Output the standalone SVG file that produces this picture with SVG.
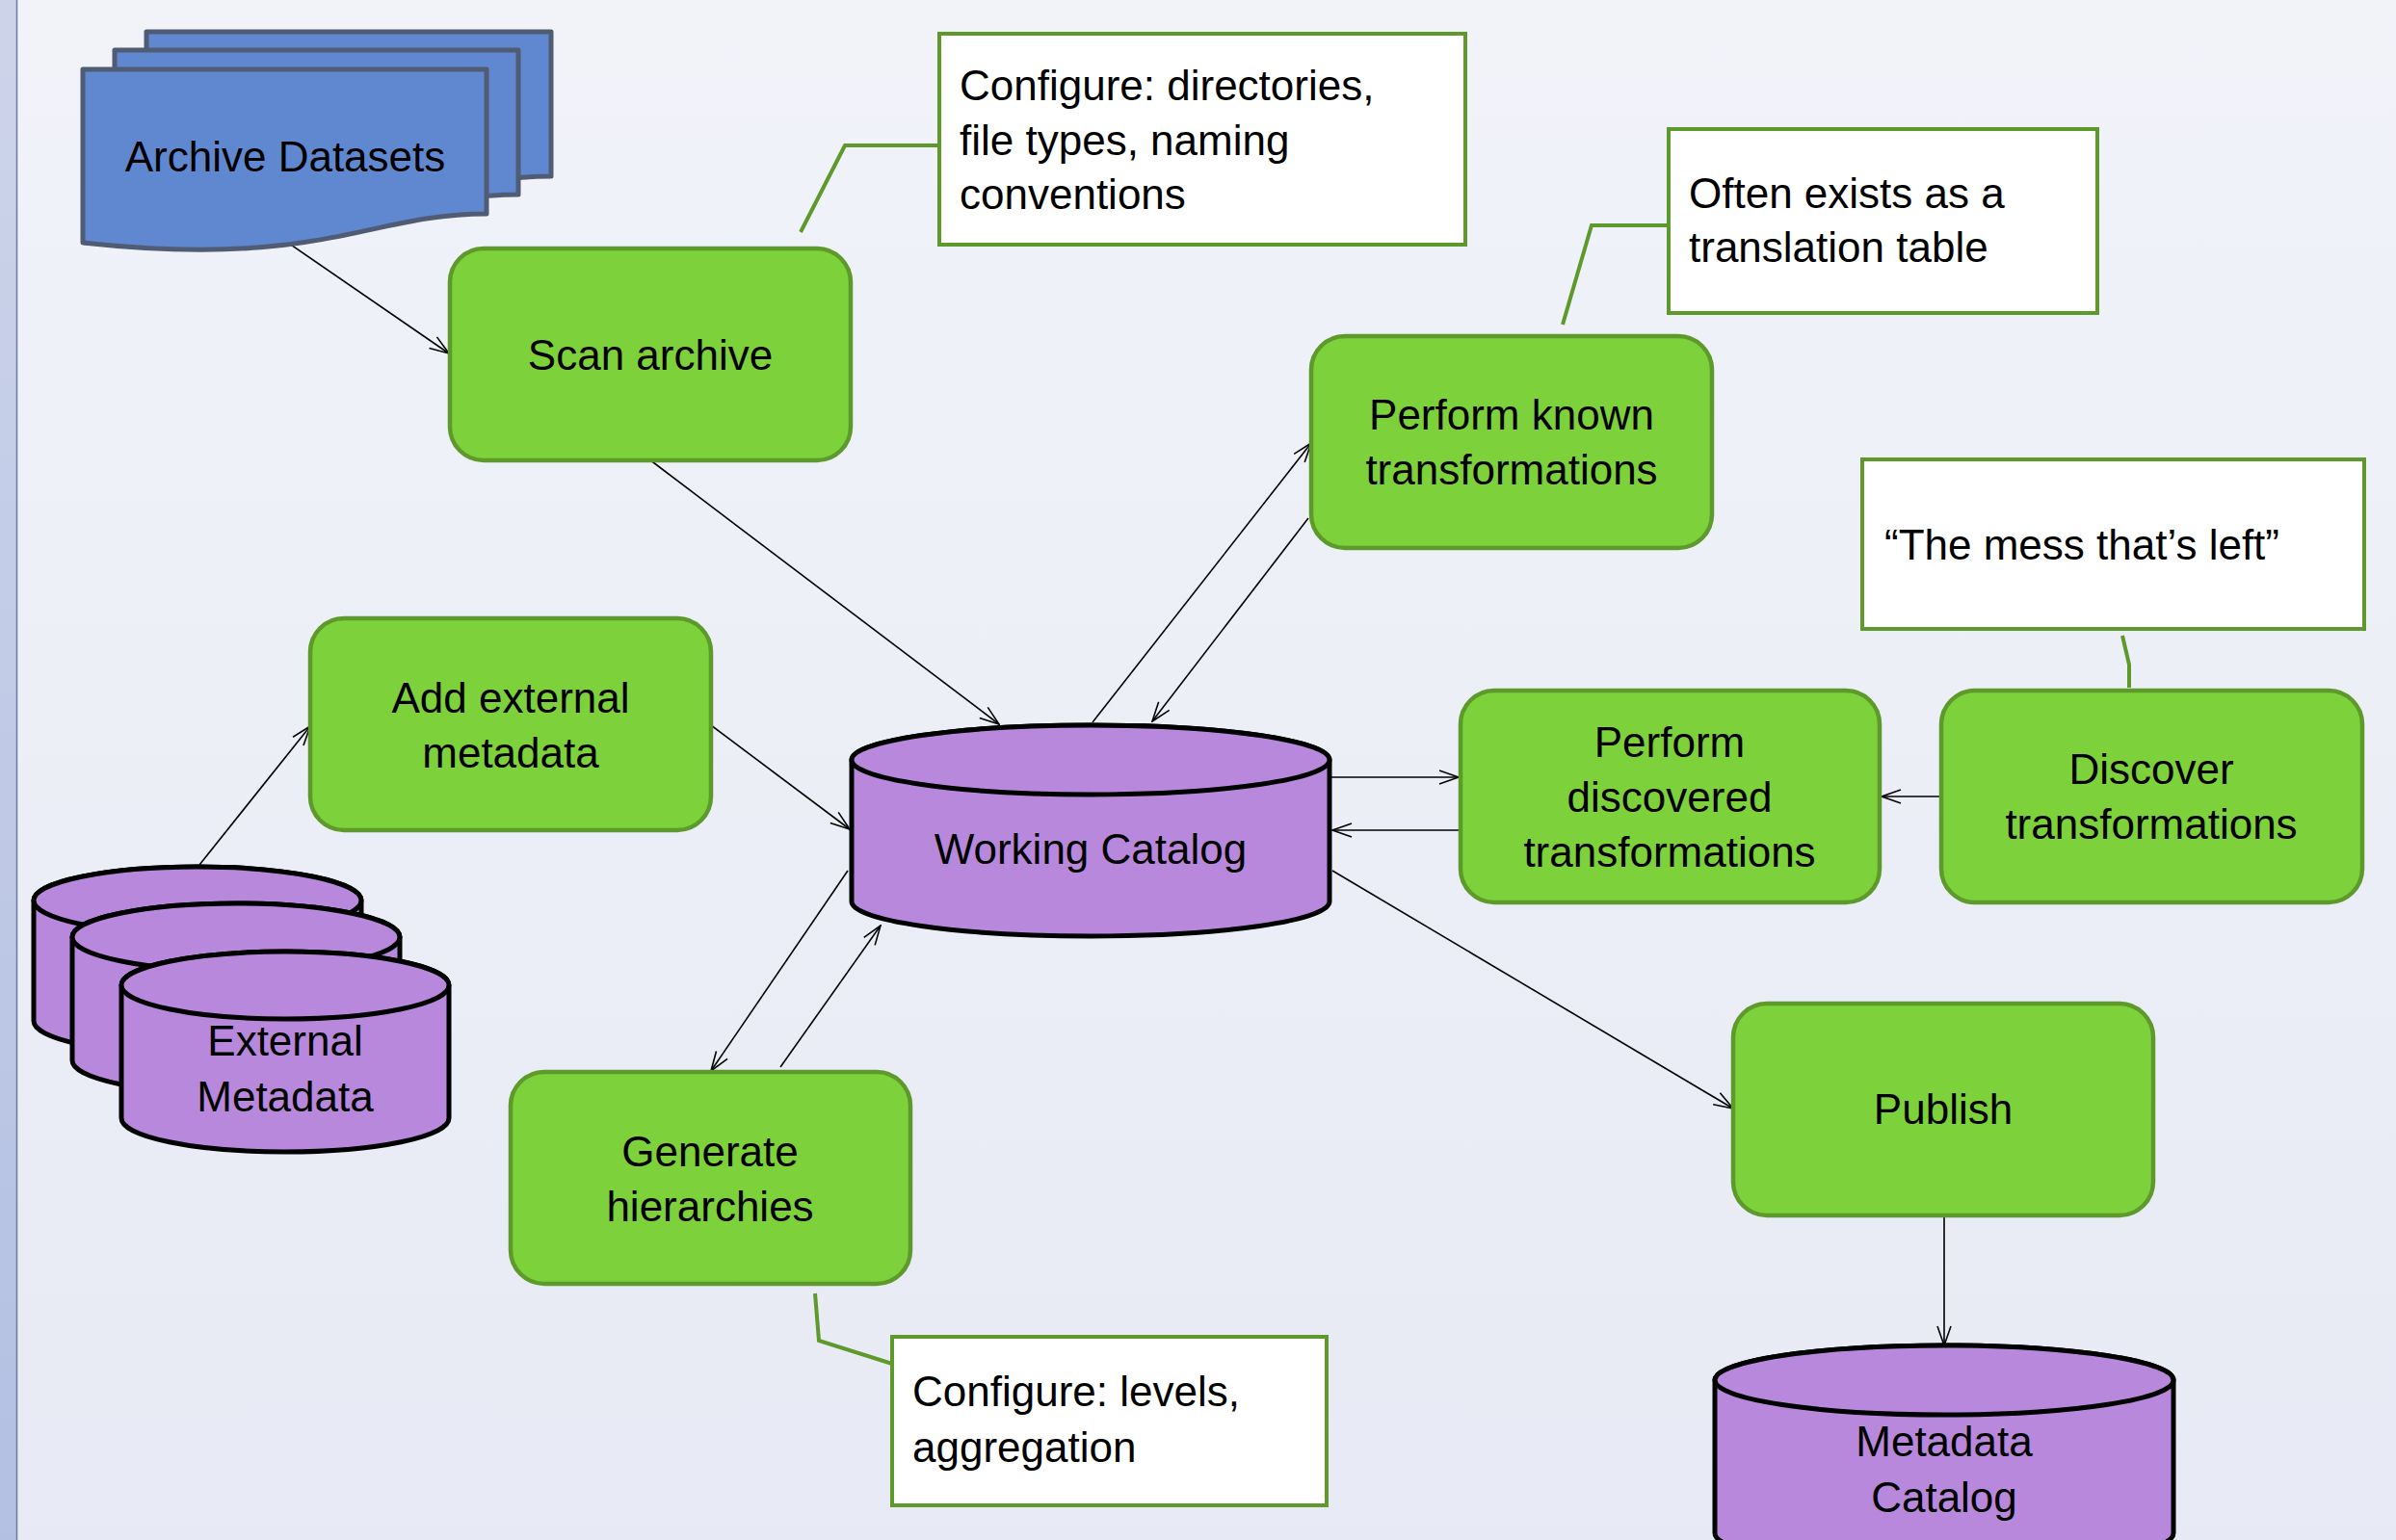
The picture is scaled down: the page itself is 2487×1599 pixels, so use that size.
<svg xmlns="http://www.w3.org/2000/svg" width="2487" height="1599" viewBox="0 0 2487 1599">
<defs>
<linearGradient id="bg" x1="0" y1="0" x2="0" y2="1">
<stop offset="0" stop-color="#f1f3f9"/>
<stop offset="1" stop-color="#e7eaf4"/>
</linearGradient>
<linearGradient id="strip" x1="0" y1="0" x2="0" y2="1">
<stop offset="0" stop-color="#cdd4ea"/>
<stop offset="1" stop-color="#b3c0e2"/>
</linearGradient>
<marker id="arr" viewBox="0 0 22 16" refX="21" refY="8" markerWidth="22" markerHeight="16" markerUnits="userSpaceOnUse" orient="auto">
<path d="M1,1 L21,8 L1,15" fill="none" stroke="#000" stroke-width="1.6"/>
</marker>
<style>
.proc{fill:#7dd13b;stroke:#5e9a2b;stroke-width:4.5}
.note{fill:#ffffff;stroke:#5e9a2b;stroke-width:4}
.lead{fill:none;stroke:#5e9a2b;stroke-width:4}
.db{fill:#b888dc;stroke:#000;stroke-width:5}
.doc{fill:#6088d0;stroke:#4f5c74;stroke-width:5;stroke-linejoin:round}
.t{font-family:"Liberation Sans",Arial,sans-serif;font-size:44px;fill:#000}
.c{text-anchor:middle}
.con{fill:none;stroke:#000;stroke-width:1.6;marker-end:url(#arr)}
</style>
</defs>
<rect x="0" y="0" width="2487" height="1599" fill="url(#bg)"/>
<rect x="0" y="0" width="17" height="1599" fill="url(#strip)"/>
<line x1="17.5" y1="0" x2="17.5" y2="1599" stroke="#6c7a9c" stroke-width="1.5"/>

<g id="connectors">
<line class="con" x1="296" y1="250" x2="466" y2="367"/>
<line class="con" x1="674" y1="477" x2="1037" y2="752"/>
<line class="con" x1="1134" y1="750" x2="1361" y2="460"/>
<line class="con" x1="1358" y1="538" x2="1196" y2="749"/>
<line class="con" x1="207" y1="898" x2="322" y2="754"/>
<line class="con" x1="738" y1="753" x2="882" y2="861"/>
<line class="con" x1="880" y1="904" x2="738" y2="1112"/>
<line class="con" x1="810" y1="1108" x2="914" y2="961"/>
<line class="con" x1="1381" y1="807" x2="1514" y2="807"/>
<line class="con" x1="1516" y1="862" x2="1383" y2="862"/>
<line class="con" x1="2016" y1="827" x2="1953" y2="827"/>
<line class="con" x1="1383" y1="904" x2="1799" y2="1151"/>
<line class="con" x1="2018" y1="1264" x2="2018" y2="1397"/>
</g>

<g id="archive-datasets">
<path class="doc" d="M152,33 H572 V183 C450,183 400,240 152,214 Z"/>
<path class="doc" d="M119,52 H538 V202 C416,202 366,259 119,233 Z"/>
<path class="doc" d="M86,72 H505 V222 C383,222 333,279 86,252 Z"/>
<text class="t c" x="296" y="178">Archive Datasets</text>
</g>

<g id="scan-archive">
<rect class="proc" x="467" y="258" width="416" height="220" rx="35" ry="35"/>
<text class="t c" x="675" y="384">Scan archive</text>
</g>

<g id="note-configure-directories">
<polyline class="lead" points="975,151 877,151 831,241"/>
<rect class="note" x="975" y="35" width="546" height="219"/>
<text class="t" x="996" y="104">Configure: directories,</text>
<text class="t" x="996" y="161">file types, naming</text>
<text class="t" x="996" y="217">conventions</text>
</g>

<g id="note-translation-table">
<polyline class="lead" points="1732,234 1652,234 1622,337"/>
<rect class="note" x="1732" y="134" width="445" height="191"/>
<text class="t" x="1753" y="216">Often exists as a</text>
<text class="t" x="1753" y="272">translation table</text>
</g>

<g id="perform-known">
<rect class="proc" x="1361" y="349" width="416" height="220" rx="35" ry="35"/>
<text class="t c" x="1569" y="446">Perform known</text>
<text class="t c" x="1569" y="503">transformations</text>
</g>

<g id="note-mess">
<polyline class="lead" points="2203,660 2210,690 2210,714"/>
<rect class="note" x="1933" y="477" width="521" height="176"/>
<text class="t" x="1956" y="581">“The mess that’s left”</text>
</g>

<g id="discover-transformations">
<rect class="proc" x="2015" y="717" width="437" height="220" rx="35" ry="35"/>
<text class="t c" x="2233" y="814">Discover</text>
<text class="t c" x="2233" y="871">transformations</text>
</g>

<g id="perform-discovered">
<rect class="proc" x="1516" y="717" width="435" height="220" rx="35" ry="35"/>
<text class="t c" x="1733" y="786">Perform</text>
<text class="t c" x="1733" y="843">discovered</text>
<text class="t c" x="1733" y="900">transformations</text>
</g>

<g id="working-catalog">
<path class="db" d="M884,789 A248,36 0 0 1 1380,789 L1380,936 A248,36 0 0 1 884,936 Z"/>
<ellipse class="db" cx="1132" cy="789" rx="248" ry="36"/>
<text class="t c" x="1132" y="897">Working Catalog</text>
</g>

<g id="add-external-metadata">
<rect class="proc" x="322" y="642" width="416" height="220" rx="35" ry="35"/>
<text class="t c" x="530" y="740">Add external</text>
<text class="t c" x="530" y="797">metadata</text>
</g>

<g id="external-metadata">
<path class="db" d="M35,935 A170,35 0 0 1 375,935 L375,1060 A170,35 0 0 1 35,1060 Z"/>
<ellipse class="db" cx="205" cy="935" rx="170" ry="35"/>
<path class="db" d="M75,973 A170,35 0 0 1 415,973 L415,1101 A170,35 0 0 1 75,1101 Z"/>
<ellipse class="db" cx="245" cy="973" rx="170" ry="35"/>
<path class="db" d="M126,1023 A170,35 0 0 1 466,1023 L466,1161 A170,35 0 0 1 126,1161 Z"/>
<ellipse class="db" cx="296" cy="1023" rx="170" ry="35"/>
<text class="t c" x="296" y="1096">External</text>
<text class="t c" x="296" y="1154">Metadata</text>
</g>

<g id="generate-hierarchies">
<rect class="proc" x="530" y="1113" width="415" height="220" rx="35" ry="35"/>
<text class="t c" x="737" y="1211">Generate</text>
<text class="t c" x="737" y="1268">hierarchies</text>
</g>

<g id="note-levels">
<polyline class="lead" points="846,1343 850,1392 926,1416"/>
<rect class="note" x="926" y="1388" width="451" height="175"/>
<text class="t" x="947" y="1460">Configure: levels,</text>
<text class="t" x="947" y="1518">aggregation</text>
</g>

<g id="publish">
<rect class="proc" x="1799" y="1042" width="436" height="220" rx="35" ry="35"/>
<text class="t c" x="2017" y="1167">Publish</text>
</g>

<g id="metadata-catalog">
<path class="db" d="M1780,1433 A238,36 0 0 1 2256,1433 L2256,1592 A238,36 0 0 1 1780,1592 Z"/>
<ellipse class="db" cx="2018" cy="1433" rx="238" ry="36"/>
<text class="t c" x="2018" y="1512">Metadata</text>
<text class="t c" x="2018" y="1570">Catalog</text>
</g>
</svg>
